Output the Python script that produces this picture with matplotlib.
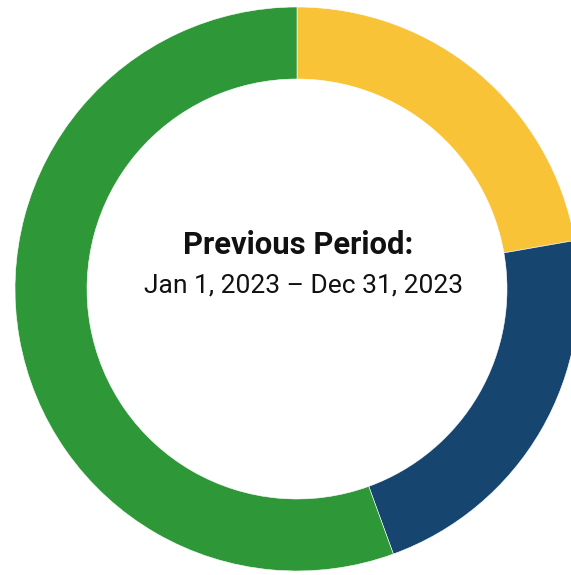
import matplotlib
matplotlib.use("Agg")
import matplotlib.pyplot as plt

categories = ["Yellow", "Blue", "Green"]
values = [22.25, 22.2, 55.55]
colors = ["#F8C336", "#164670", "#2E9738"]
title_line = "Previous Period:"
date_line = "Jan 1, 2023 \u2013 Dec 31, 2023"

W, H = 571, 575
fig = plt.figure(figsize=(W / 100, H / 100), dpi=100)
ax = fig.add_axes([0, 0, 1, 1])

cx, cy, r = 297, H - 289, 282
ax.pie(values, colors=colors, startangle=90, counterclock=False,
       center=(cx, cy), radius=r, frame=True,
       wedgeprops=dict(width=72, edgecolor="white", linewidth=0.4))
ax.set_xlim(0, W)
ax.set_ylim(0, H)
ax.set_aspect("equal")
ax.axis("off")

ax.text(298.5, H - 254, title_line, ha="center", va="baseline",
        fontsize=22.3, fontweight="bold", family="Roboto", color="#111111")
ax.text(304, H - 293, date_line, ha="center", va="baseline",
        fontsize=19, fontweight="normal", family="Roboto", color="#111111")

fig.savefig("out.png", dpi=100)
